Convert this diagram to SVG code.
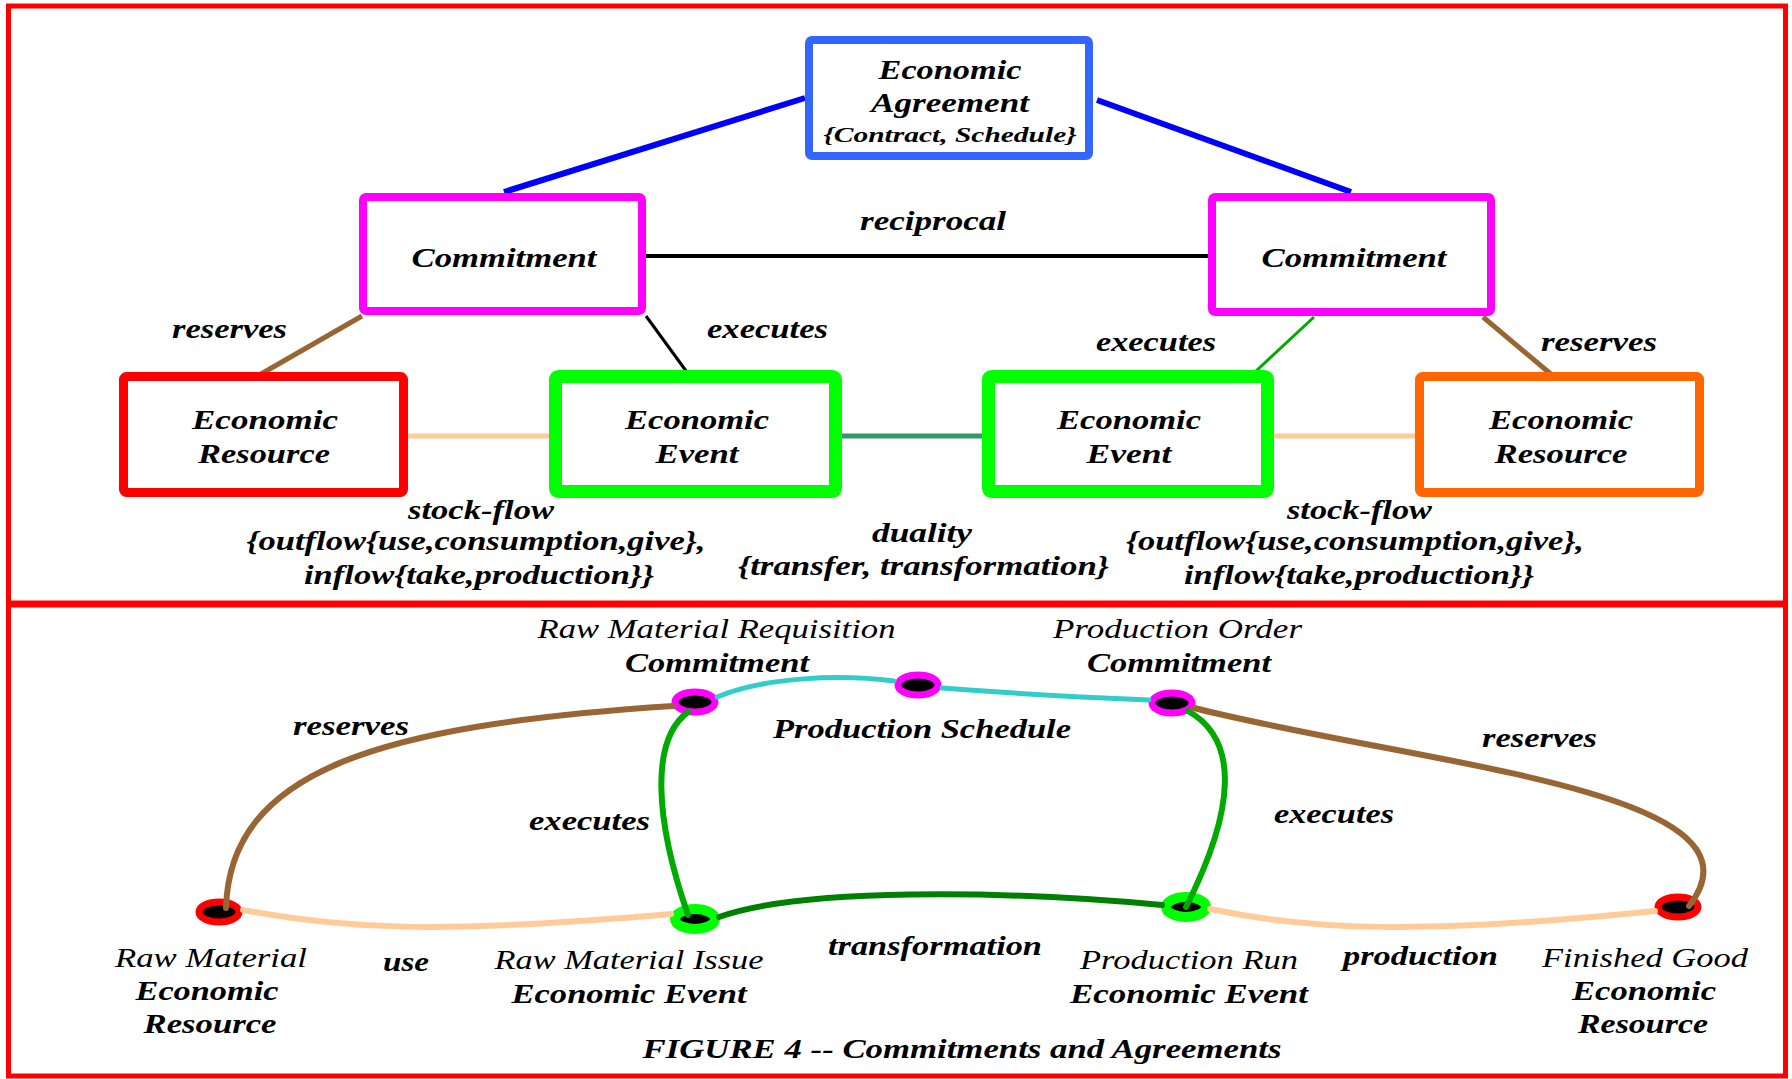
<svg xmlns="http://www.w3.org/2000/svg" width="1792" height="1079" viewBox="0 0 1792 1079">
<style>
.t{font-family:"Liberation Serif","Times New Roman",serif;font-style:italic;font-weight:bold;font-size:28px;fill:#000;text-anchor:middle}
.r{font-weight:normal}
.s{font-size:21px}
.box{fill:#fff}
.ln{fill:none}
.mag{fill:#000;stroke:#FF00FF;stroke-width:7}
.lime{fill:#000;stroke:#00FF00;stroke-width:10}
.red{fill:#000;stroke:#FF0000;stroke-width:7}
</style>
<rect width="1792" height="1079" fill="#fff"/>
<g id="frame" fill="none" stroke="#FF0000" stroke-width="5">
<rect x="8.5" y="6" width="1777" height="597"/>
<rect x="8.5" y="605" width="1777" height="471"/>
</g>
<g id="connectors" class="ln" stroke-linecap="butt">
<line x1="805" y1="98" x2="504" y2="192" stroke="#0000FF" stroke-width="6"/>
<line x1="1097" y1="100" x2="1351" y2="192" stroke="#0000FF" stroke-width="6"/>
<line x1="646" y1="256" x2="1208" y2="256" stroke="#000" stroke-width="4"/>
<line x1="362" y1="316" x2="261" y2="374" stroke="#996633" stroke-width="5"/>
<line x1="646" y1="316" x2="689" y2="375" stroke="#000" stroke-width="3"/>
<line x1="1314" y1="317" x2="1256" y2="371" stroke="#00AA00" stroke-width="3"/>
<line x1="1483" y1="317" x2="1552" y2="375" stroke="#996633" stroke-width="5"/>
<line x1="408" y1="436" x2="549" y2="436" stroke="#FFCC99" stroke-width="5"/>
<line x1="842" y1="436" x2="982" y2="436" stroke="#339966" stroke-width="5"/>
<line x1="1274" y1="436" x2="1415" y2="436" stroke="#FFCC99" stroke-width="5"/>
</g>
<g id="n-agreement"><rect class="box" x="809" y="40" width="280" height="116" rx="3" stroke="#3366FF" stroke-width="8"/>
<text class="t" x="950" y="79" textLength="143" lengthAdjust="spacingAndGlyphs">Economic</text>
<text class="t" x="950" y="112" textLength="158" lengthAdjust="spacingAndGlyphs">Agreement</text>
<text class="t s" x="950" y="142" textLength="253" lengthAdjust="spacingAndGlyphs">{Contract, Schedule}</text></g>
<g id="n-commit-l"><rect class="box" x="363" y="197" width="279" height="114" rx="3" stroke="#FF00FF" stroke-width="8"/>
<text class="t" x="504" y="267" textLength="185" lengthAdjust="spacingAndGlyphs">Commitment</text></g>
<g id="n-commit-r"><rect class="box" x="1212" y="197" width="279" height="115" rx="3" stroke="#FF00FF" stroke-width="8"/>
<text class="t" x="1354" y="267" textLength="185" lengthAdjust="spacingAndGlyphs">Commitment</text></g>
<g id="n-res-l"><rect class="box" x="123.5" y="376.5" width="280" height="116" rx="3" stroke="#FF0000" stroke-width="9"/>
<text class="t" x="265" y="429" textLength="146" lengthAdjust="spacingAndGlyphs">Economic</text>
<text class="t" x="264" y="463" textLength="132" lengthAdjust="spacingAndGlyphs">Resource</text></g>
<g id="n-event-l"><rect class="box" x="555.5" y="376.5" width="280" height="115" rx="3" stroke="#00FF00" stroke-width="13"/>
<text class="t" x="697" y="429" textLength="144" lengthAdjust="spacingAndGlyphs">Economic</text>
<text class="t" x="697" y="463" textLength="83" lengthAdjust="spacingAndGlyphs">Event</text></g>
<g id="n-event-r"><rect class="box" x="988.5" y="376.5" width="279" height="115" rx="3" stroke="#00FF00" stroke-width="13"/>
<text class="t" x="1129" y="429" textLength="144" lengthAdjust="spacingAndGlyphs">Economic</text>
<text class="t" x="1129" y="463" textLength="85" lengthAdjust="spacingAndGlyphs">Event</text></g>
<g id="n-res-r"><rect class="box" x="1419.5" y="376.5" width="280" height="116" rx="3" stroke="#FF6600" stroke-width="9"/>
<text class="t" x="1561" y="429" textLength="144" lengthAdjust="spacingAndGlyphs">Economic</text>
<text class="t" x="1561" y="463" textLength="133" lengthAdjust="spacingAndGlyphs">Resource</text></g>
<g id="labels-top">
<text class="t" x="933" y="230" textLength="146" lengthAdjust="spacingAndGlyphs">reciprocal</text>
<text class="t" x="229.5" y="338" textLength="115" lengthAdjust="spacingAndGlyphs">reserves</text>
<text class="t" x="767.5" y="338" textLength="121" lengthAdjust="spacingAndGlyphs">executes</text>
<text class="t" x="1156" y="351" textLength="120" lengthAdjust="spacingAndGlyphs">executes</text>
<text class="t" x="1599" y="351" textLength="116" lengthAdjust="spacingAndGlyphs">reserves</text>
<text class="t" x="481" y="519" textLength="146" lengthAdjust="spacingAndGlyphs">stock-flow</text>
<text class="t" x="476" y="550" textLength="459" lengthAdjust="spacingAndGlyphs">{outflow{use,consumption,give},</text>
<text class="t" x="479" y="584" textLength="350" lengthAdjust="spacingAndGlyphs">inflow{take,production}}</text>
<text class="t" x="922" y="542" textLength="100" lengthAdjust="spacingAndGlyphs">duality</text>
<text class="t" x="923.5" y="575" textLength="371" lengthAdjust="spacingAndGlyphs">{transfer, transformation}</text>
<text class="t" x="1359.5" y="519" textLength="145" lengthAdjust="spacingAndGlyphs">stock-flow</text>
<text class="t" x="1355" y="550" textLength="458" lengthAdjust="spacingAndGlyphs">{outflow{use,consumption,give},</text>
<text class="t" x="1359" y="584" textLength="350" lengthAdjust="spacingAndGlyphs">inflow{take,production}}</text>
</g>
<g id="nodes-bottom">
<g id="b-rm"><ellipse class="red" cx="219" cy="912" rx="20" ry="10"/></g>
<g id="b-issue"><ellipse class="lime" cx="695" cy="919" rx="20" ry="10"/></g>
<g id="b-req"><ellipse class="mag" cx="695" cy="702" rx="20" ry="10"/></g>
<g id="b-sched"><ellipse class="mag" cx="918" cy="685" rx="20" ry="10"/></g>
<g id="b-order"><ellipse class="mag" cx="1172" cy="703" rx="20" ry="10"/></g>
<g id="b-run"><ellipse class="lime" cx="1186" cy="907" rx="20" ry="10"/></g>
<g id="b-fg"><ellipse class="red" cx="1678" cy="907" rx="20" ry="10"/></g>
</g>
<g id="connectors-bottom" class="ln" stroke-linecap="round">
<path d="M226,908 C230,770 380,725 673,706" stroke="#996633" stroke-width="6"/>
<path d="M243,910 C340,928 430,935 671,914" stroke="#FFCC99" stroke-width="6"/>
<path d="M688,712 C650,740 655,820 688,915" stroke="#00AA00" stroke-width="6"/>
<path d="M717,697 C765,677 840,674 894,681" stroke="#33CCCC" stroke-width="5"/>
<path d="M942,688 C1020,694 1100,698 1149,700" stroke="#33CCCC" stroke-width="5"/>
<path d="M719,917 C800,888 1000,890 1162,905" stroke="#008000" stroke-width="6"/>
<path d="M1188,711 C1240,740 1235,810 1186,907" stroke="#00AA00" stroke-width="6"/>
<path d="M1194,708 C1420,765 1780,790 1689,906" stroke="#996633" stroke-width="6"/>
<path d="M1210,909 C1310,930 1420,935 1655,911" stroke="#FFCC99" stroke-width="6"/>
</g>
<g id="labels-bottom">
<text class="t r" x="716.5" y="638" textLength="358" lengthAdjust="spacingAndGlyphs">Raw Material Requisition</text>
<text class="t" x="717" y="672" textLength="184" lengthAdjust="spacingAndGlyphs">Commitment</text>
<text class="t r" x="1177.5" y="638" textLength="249" lengthAdjust="spacingAndGlyphs">Production Order</text>
<text class="t" x="1179" y="672" textLength="184" lengthAdjust="spacingAndGlyphs">Commitment</text>
<text class="t" x="922" y="738" textLength="298" lengthAdjust="spacingAndGlyphs">Production Schedule</text>
<text class="t" x="351" y="735" textLength="116" lengthAdjust="spacingAndGlyphs">reserves</text>
<text class="t" x="589.5" y="830" textLength="121" lengthAdjust="spacingAndGlyphs">executes</text>
<text class="t" x="1539.5" y="747" textLength="115" lengthAdjust="spacingAndGlyphs">reserves</text>
<text class="t" x="1334" y="823" textLength="120" lengthAdjust="spacingAndGlyphs">executes</text>
<text class="t r" x="211" y="967" textLength="192" lengthAdjust="spacingAndGlyphs">Raw Material</text>
<text class="t" x="207" y="1000" textLength="143" lengthAdjust="spacingAndGlyphs">Economic</text>
<text class="t" x="210" y="1033" textLength="133" lengthAdjust="spacingAndGlyphs">Resource</text>
<text class="t" x="406" y="971" textLength="46" lengthAdjust="spacingAndGlyphs">use</text>
<text class="t r" x="629" y="969" textLength="269" lengthAdjust="spacingAndGlyphs">Raw Material Issue</text>
<text class="t" x="629" y="1003" textLength="235" lengthAdjust="spacingAndGlyphs">Economic Event</text>
<text class="t" x="935" y="955" textLength="214" lengthAdjust="spacingAndGlyphs">transformation</text>
<text class="t r" x="1189" y="969" textLength="218" lengthAdjust="spacingAndGlyphs">Production Run</text>
<text class="t" x="1189" y="1003" textLength="238" lengthAdjust="spacingAndGlyphs">Economic Event</text>
<text class="t" x="1420.5" y="965" textLength="155" lengthAdjust="spacingAndGlyphs">production</text>
<text class="t r" x="1645" y="967" textLength="206" lengthAdjust="spacingAndGlyphs">Finished Good</text>
<text class="t" x="1644" y="1000" textLength="144" lengthAdjust="spacingAndGlyphs">Economic</text>
<text class="t" x="1643" y="1033" textLength="130" lengthAdjust="spacingAndGlyphs">Resource</text>
<text class="t" x="962" y="1058" textLength="639" lengthAdjust="spacingAndGlyphs">FIGURE 4 -- Commitments and Agreements</text>
</g>
</svg>
